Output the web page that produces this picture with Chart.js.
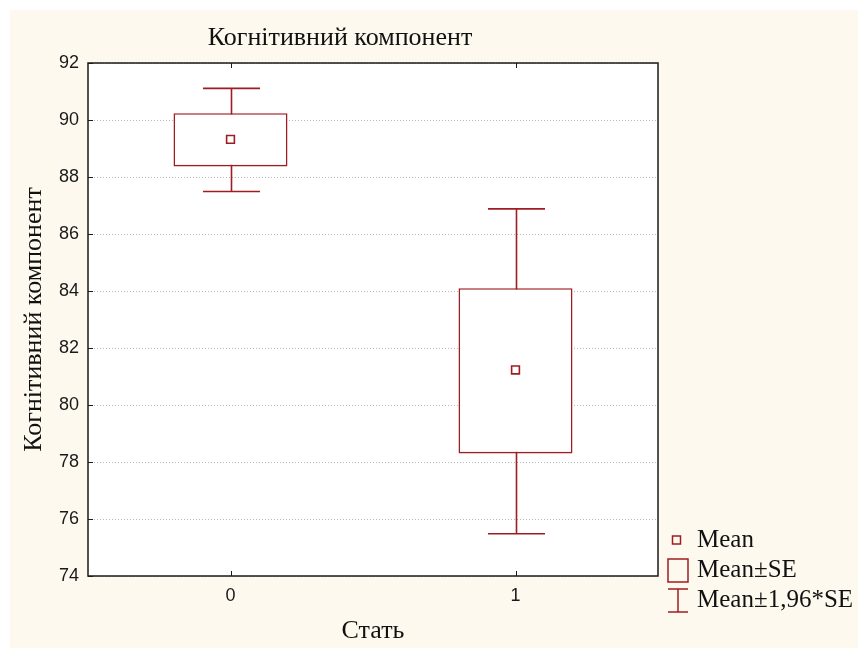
<!DOCTYPE html>
<html>
<head>
<meta charset="utf-8">
<script src="https://cdn.jsdelivr.net/npm/chart.js@4"></script>
<style>
  html, body { margin: 0; padding: 0; background: #fff; }
  #wrap { position: absolute; left: 10px; top: 10px; width: 848px; height: 638px; background: #fef9ee; }
</style>
</head>
<body>
<div id="wrap"><canvas id="c" width="848" height="638"></canvas></div>
<script>
const categories = ['0', '1'];
const means  = [89.32, 81.23];
const seLow  = [88.37, 78.30];
const seHigh = [90.24, 84.10];
const ciLow  = [87.49, 75.48];
const ciHigh = [91.11, 86.88];
const yTicks = [74, 76, 78, 80, 82, 84, 86, 88, 90, 92];

const chartTitle = 'Когнітивний компонент';
const xTitle = 'Стать';
const yTitle = 'Когнітивний компонент';
const legendLabels = ['Mean', 'Mean±SE', 'Mean±1,96*SE'];

const RED = '#9e1c22';
const SERIF = '"Liberation Serif", "Times New Roman", serif';
const SANS = '"Liberation Sans", Arial, sans-serif';

const decor = {
  id: 'decor',
  beforeDraw(chart) {
    const { ctx, chartArea: a } = chart;
    ctx.save();
    ctx.fillStyle = '#fff';
    ctx.fillRect(a.left, a.top, a.right - a.left, a.bottom - a.top);
    ctx.restore();
  },
  beforeDatasetsDraw(chart) {
    // whiskers (Mean±1,96*SE); box drawn on top hides the middle
    const { ctx, scales: { x, y } } = chart;
    const half = (x.getPixelForValue(1) - x.getPixelForValue(0)) * 0.1;
    ctx.save();
    ctx.strokeStyle = RED;
    ctx.lineWidth = 1.6;
    categories.forEach((c, i) => {
      const px = Math.round(x.getPixelForValue(i)) + 0.5;
      const top = y.getPixelForValue(ciHigh[i]);
      const bot = y.getPixelForValue(ciLow[i]);
      ctx.beginPath();
      ctx.moveTo(px, top); ctx.lineTo(px, bot);
      ctx.moveTo(px - half, top); ctx.lineTo(px + half, top);
      ctx.moveTo(px - half, bot); ctx.lineTo(px + half, bot);
      ctx.stroke();
    });
    ctx.restore();
  },
  afterDraw(chart) {
    const { ctx, chartArea: a, scales: { x, y } } = chart;
    ctx.save();
    // frame
    ctx.strokeStyle = '#1a1a1a';
    ctx.lineWidth = 1.5;
    ctx.strokeRect(a.left, a.top, a.right - a.left, a.bottom - a.top);
    // inward ticks
    ctx.lineWidth = 1;
    ctx.beginPath();
    yTicks.forEach(v => {
      const py = Math.round(y.getPixelForValue(v)) + 0.5;
      ctx.moveTo(a.left, py); ctx.lineTo(a.left + 5, py);
    });
    categories.forEach((c, i) => {
      const px = Math.round(x.getPixelForValue(i)) + 0.5;
      ctx.moveTo(px, a.top); ctx.lineTo(px, a.top + 5);
      ctx.moveTo(px, a.bottom); ctx.lineTo(px, a.bottom - 5);
    });
    ctx.stroke();

    // titles
    ctx.fillStyle = '#111';
    ctx.font = '26px ' + SERIF;
    ctx.textAlign = 'center';
    ctx.textBaseline = 'alphabetic';
    ctx.fillText(chartTitle, 330, 35);
    ctx.fillText(xTitle, (a.left + a.right) / 2, 628);
    ctx.save();
    ctx.translate(31, (a.top + a.bottom) / 2);
    ctx.rotate(-Math.PI / 2);
    ctx.fillText(yTitle, 0, 0);
    ctx.restore();

    // legend
    ctx.strokeStyle = RED;
    ctx.lineWidth = 1.5;
    ctx.strokeRect(662.5, 526, 8, 8);
    ctx.strokeRect(658, 549, 20, 23);
    ctx.beginPath();
    ctx.moveTo(658, 579); ctx.lineTo(678, 579);
    ctx.moveTo(668, 579); ctx.lineTo(668, 602);
    ctx.moveTo(658, 602); ctx.lineTo(678, 602);
    ctx.stroke();
    ctx.font = '25px ' + SERIF;
    ctx.textAlign = 'left';
    ctx.fillText(legendLabels[0], 687, 537);
    ctx.fillText(legendLabels[1], 687, 567);
    ctx.fillText(legendLabels[2], 687, 597);
    ctx.restore();
  }
};

new Chart(document.getElementById('c'), {
  data: {
    labels: categories,
    datasets: [
      {
        type: 'line',
        label: legendLabels[0],
        data: means,
        showLine: false,
        pointStyle: 'rect',
        pointRadius: 5.5,
        pointBackgroundColor: '#fff',
        pointBorderColor: RED,
        pointBorderWidth: 1.6,
        order: 1
      },
      {
        type: 'bar',
        label: legendLabels[1],
        data: categories.map((c, i) => [seLow[i], seHigh[i]]),
        backgroundColor: '#fff',
        borderColor: RED,
        borderWidth: 1.6,
        borderSkipped: false,
        barPercentage: 0.4,
        categoryPercentage: 1,
        order: 2
      }
    ]
  },
  options: {
    responsive: false,
    animation: false,
    layout: { padding: { left: 0, top: 53, right: 200, bottom: 0 } },
    plugins: { legend: { display: false }, title: { display: false }, tooltip: { enabled: false } },
    scales: {
      x: {
        type: 'category',
        offset: true,
        grid: { display: false, drawTicks: false },
        border: { display: false },
        ticks: { color: '#1a1a1a', font: { family: SANS, size: 18 }, padding: 9 },
        afterFit: s => { s.height = 72; }
      },
      y: {
        min: 74, max: 92,
        afterBuildTicks: s => { s.ticks = yTicks.map(v => ({ value: v })); },
        grid: { color: '#b8b8b8', lineWidth: 1, drawTicks: false },
        border: { display: false, dash: [1, 2] },
        ticks: { color: '#1a1a1a', font: { family: SANS, size: 18 }, padding: 9 },
        afterFit: s => { s.width = 78; }
      }
    }
  },
  plugins: [decor]
});
</script>
</body>
</html>
